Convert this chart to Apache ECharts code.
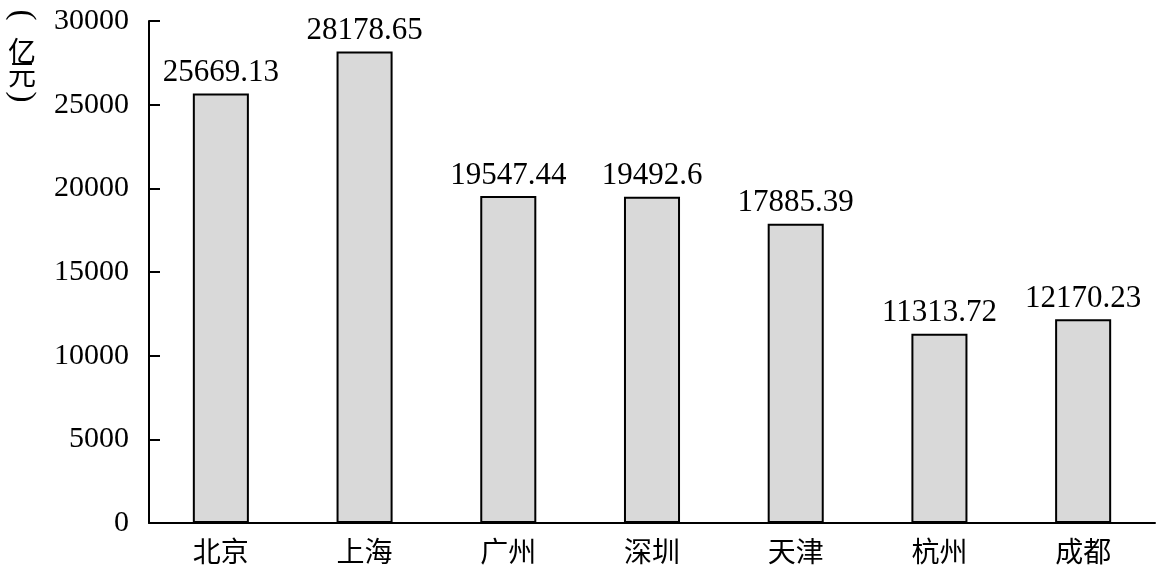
<!DOCTYPE html>
<html>
<head>
<meta charset="utf-8">
<script src="https://cdn.jsdelivr.net/npm/echarts@6/dist/echarts.min.js"></script>
<style>html,body{margin:0;padding:0;background:#fff}#c{width:1166px;height:575px}</style>
</head>
<body>
<div id="c"></div>
<script>
const categories = ['北京', '上海', '广州', '深圳', '天津', '杭州', '成都'];
const values = [25669.13, 28178.65, 19547.44, 19492.6, 17885.39, 11313.72, 12170.23];
const yTicks = { min: 0, max: 30000, interval: 5000 };
const unitChars = ['亿', '元'];

const serif = '"Liberation Serif", "Times New Roman", serif';
const cjk = '"Noto Sans CJK SC", sans-serif';
const chart = echarts.init(document.getElementById('c'));

function paren(ch, cy) {
  return { type: 'text', x: 22, y: cy, rotation: -Math.PI / 2,
    style: { text: ch, font: '33px ' + serif, fill: '#000', align: 'center', verticalAlign: 'middle' } };
}

const nameGraphics = [
  paren('(', 15),
  { type: 'text', x: 22, y: 51,
    style: { text: unitChars[0], font: '28px ' + cjk, fill: '#000', align: 'center', verticalAlign: 'middle' } },
  { type: 'text', x: 22, y: 74,
    style: { text: unitChars[1], font: '28px ' + cjk, fill: '#000', align: 'center', verticalAlign: 'middle' } },
  paren(')', 97)
];

chart.setOption({
  animation: false,
  backgroundColor: '#fff',
  grid: { left: 149, right: 11, top: 21, bottom: 52 },
  graphic: { elements: nameGraphics },
  xAxis: {
    type: 'category',
    data: categories,
    axisLine: { lineStyle: { color: '#000', width: 2 } },
    axisTick: { inside: true, length: 11, lineStyle: { color: '#000', width: 2 } },
    axisLabel: { color: '#000', fontFamily: cjk, fontSize: 28, margin: 14 }
  },
  yAxis: {
    type: 'value',
    min: yTicks.min, max: yTicks.max, interval: yTicks.interval,
    splitLine: { show: false },
    axisLine: { show: true, lineStyle: { color: '#000', width: 2 } },
    axisTick: { show: true, inside: true, length: 11, lineStyle: { color: '#000', width: 2 } },
    axisLabel: { color: '#000', fontFamily: serif, fontSize: 30, margin: 20,
      formatter: function (v) { return String(v); } }
  },
  series: [{
    type: 'bar',
    data: values,
    barWidth: '39%',
    itemStyle: { color: '#d9d9d9', borderColor: '#000', borderWidth: 2 },
    label: { show: true, position: 'top', distance: 5, color: '#000', fontFamily: serif, fontSize: 31 }
  }]
});
</script>
</body>
</html>
